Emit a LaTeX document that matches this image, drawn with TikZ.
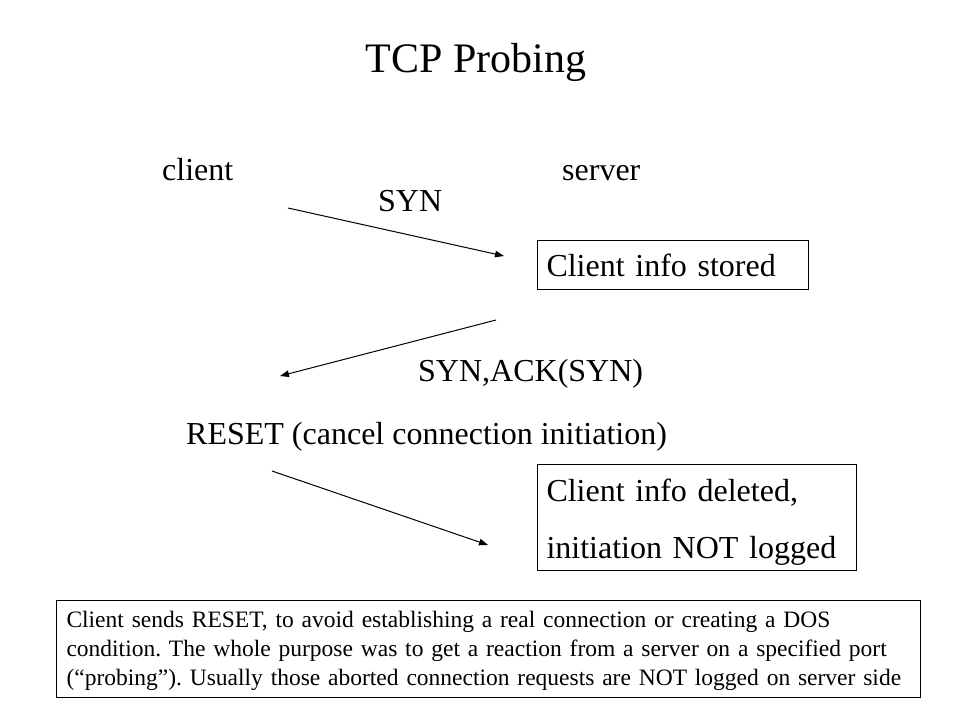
\documentclass[tikz,border=0pt]{standalone}
\usepackage{fontspec}
\setmainfont{Liberation Serif}
\usetikzlibrary{arrows.meta,positioning}

\begin{document}
\begin{tikzpicture}[
  x=1pt,y=-1pt,
  lbl/.style={inner sep=0pt,anchor=base west,font=\fontsize{32}{38}\selectfont},
  infobox/.style={draw,line width=1pt,anchor=north west,align=left,inner xsep=9pt,inner ysep=0pt,font=\fontsize{32}{57}\selectfont},
  msg/.style={-{Triangle[length=9pt,width=6.5pt]},line width=1pt}
]
\useasboundingbox (0,0) rectangle (960,720);
\node[inner sep=0pt,anchor=base,font=\fontsize{42}{48}\selectfont] (title) at (476,72) {TCP Probing};
\node[lbl] (client) at (162,180) {client};
\node[lbl] (server) at (562,180) {server};
\node[lbl] (syn) at (378,211) {SYN};
\node[infobox,text width=253pt,minimum height=49pt] (stored) at (537,240) {Client info stored};
\node[lbl] (synack) at (418,381) {SYN,ACK(SYN)};
\node[lbl] (reset) at (186,444) {RESET (cancel connection initiation)};
\node[infobox,text width=301pt,minimum height=106pt] (deleted) at (537,464) {\rule{0pt}{32pt}Client info deleted,\\initiation NOT logged};
\node[draw,line width=1pt,anchor=north west,align=left,inner xsep=10pt,inner ysep=0pt,text width=844pt,font=\fontsize{23.5}{29}\selectfont\frenchspacing] (note) at (56,600)
  {\rule{0pt}{27pt}Client sends RESET, to avoid establishing a real connection or creating a DOS\\
   condition. The whole purpose was to get a reaction from a server on a specified port\\
   (“probing”). Usually those aborted connection requests are NOT logged on server side\rule[-12pt]{0pt}{12pt}};
% message arrows
\coordinate (syn s) at (288,208);
\coordinate (syn e) at (504,256);
\coordinate (ack s) at (496,320);
\coordinate (ack e) at (280,376);
\coordinate (rst s) at (272,471);
\coordinate (rst e) at (488,545);
\draw[msg] (syn s) -- (syn e);
\draw[msg] (ack s) -- (ack e);
\draw[msg] (rst s) -- (rst e);
\end{tikzpicture}
\end{document}
